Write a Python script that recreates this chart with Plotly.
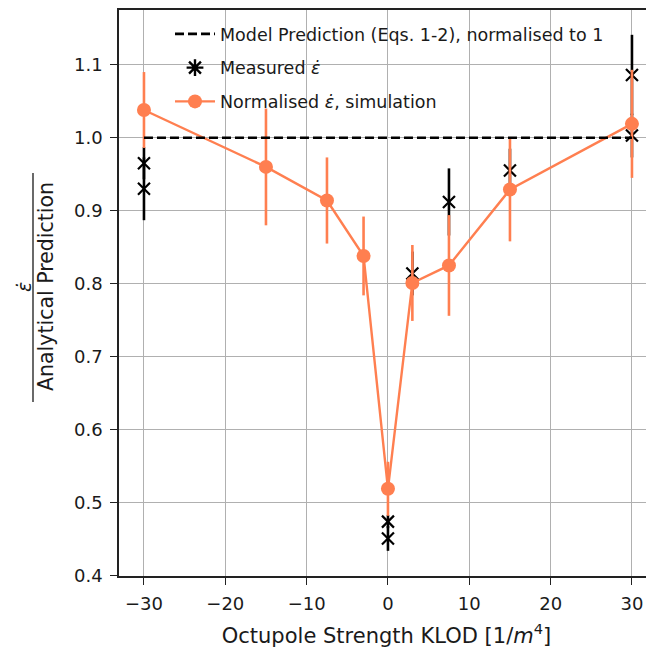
import plotly.graph_objects as go

# ---- data ----
sim_x = [-30, -15, -7.5, -3, 0, 3, 7.5, 15, 30]
sim_y = [1.038, 0.960, 0.914, 0.838, 0.519, 0.801, 0.825, 0.929, 1.019]
sim_err = [0.052, 0.080, 0.059, 0.054, 0.037, 0.052, 0.069, 0.071, 0.074]

meas_x = [-30, -30, 0, 0, 3, 7.5, 15, 30, 30]
meas_y = [0.965, 0.930, 0.474, 0.451, 0.814, 0.912, 0.955, 1.086, 1.003]
meas_err = [0.022, 0.043, 0.009, 0.017, 0.03, 0.046, 0.03, 0.055, 0.03]

model_x = [-30, 30]
model_y = [1.0, 1.0]

x_ticks = [-30, -20, -10, 0, 10, 20, 30]
y_ticks = [0.4, 0.5, 0.6, 0.7, 0.8, 0.9, 1.0, 1.1]

CORAL = "#FF7F50"
FONT = "DejaVu Sans"
TXT = "#1a1a1a"

OFF = 8  # page body margin
FW, FH = 654 - OFF, 648 - OFF
L, T, W, H = 119 - OFF, 10 - OFF, 535, 566  # plot area in figure pixels


def px_x(p):  # screenshot pixel -> paper
    return (p - OFF - L) / W


def px_y(p):
    return 1 - (p - OFF - T) / H


fig = go.Figure()

# measured points (x markers with vertical error bars)
fig.add_trace(go.Scatter(
    x=meas_x, y=meas_y, mode="markers", showlegend=False,
    marker=dict(symbol="x-thin", size=12, color="black",
                line=dict(width=2.2, color="black")),
    error_y=dict(type="data", array=meas_err, color="black",
                 thickness=2.6, width=0),
))

# simulation
fig.add_trace(go.Scatter(
    x=sim_x, y=sim_y, mode="lines+markers", showlegend=False,
    line=dict(color=CORAL, width=2.4),
    marker=dict(symbol="circle", size=14, color=CORAL),
    error_y=dict(type="data", array=sim_err, color=CORAL,
                 thickness=2.6, width=0),
))

# model prediction dashed line
fig.add_trace(go.Scatter(
    x=model_x, y=model_y, mode="lines", showlegend=False,
    line=dict(color="black", width=2.6, dash="9px,4px"),
))

# legend entries
fig.add_trace(go.Scatter(
    x=[None], y=[None], mode="lines", legendgroup="a", legendrank=1,
    name="Model Prediction (Eqs. 1-2), normalised to 1",
    line=dict(color="black", width=2.6, dash="9px,4px"),
))
fig.add_trace(go.Scatter(
    x=[None], y=[None], mode="markers", legendgroup="b", legendrank=2,
    name="Measured <i>ε̇</i>",
    marker=dict(symbol="asterisk-open", size=14, color="black",
                line=dict(width=2.4, color="black")),
))
fig.add_trace(go.Scatter(
    x=[None], y=[None], mode="lines+markers", legendgroup="c", legendrank=3,
    name="Normalised <i>ε̇</i>, simulation",
    line=dict(color=CORAL, width=2.4),
    marker=dict(symbol="circle", size=14, color=CORAL),
))

fig.update_layout(
    width=FW, height=FH,
    margin=dict(l=L, r=FW - L - W, t=T, b=FH - T - H, autoexpand=False),
    paper_bgcolor="white", plot_bgcolor="white",
    font=dict(family=FONT, size=18, color=TXT),
    showlegend=True,
    legend=dict(x=px_x(170), y=px_y(16), xanchor="left", yanchor="top",
                bgcolor="rgba(0,0,0,0)", borderwidth=0,
                font=dict(family=FONT, size=17.5, color=TXT),
                traceorder="grouped", tracegroupgap=8,
                itemwidth=40),
    xaxis=dict(range=[-33.07, 32.71], tickvals=x_ticks,
               ticktext=[("−" + str(-v)) if v < 0 else str(v) for v in x_ticks],
               showgrid=True, gridcolor="#b0b0b0", gridwidth=1,
               zeroline=False, showline=True, linecolor="#222", linewidth=1.6,
               mirror=True, ticks="outside", ticklen=7, tickwidth=1.4,
               tickcolor="#222", automargin=False, ticklabelstandoff=4,
               title=dict(text="Octupole Strength KLOD [1/<i>m</i><sup>4</sup>]",
                          font=dict(family=FONT, size=21, color=TXT),
                          standoff=17)),
    yaxis=dict(range=[0.3995, 1.175], tickvals=y_ticks,
               ticktext=["%.1f" % v for v in y_ticks],
               showgrid=True, gridcolor="#b0b0b0", gridwidth=1,
               zeroline=False, showline=True, linecolor="#222", linewidth=1.6,
               ticks="outside", ticklen=7, tickwidth=1.4, tickcolor="#222",
               automargin=False, ticklabelstandoff=4),
)

# y-axis title as a fraction: eps-dot over "Analytical Prediction"
fig.add_annotation(text="Analytical Prediction", xref="paper", yref="paper",
                   x=px_x(46), y=px_y(287), xanchor="center", yanchor="middle",
                   textangle=-90, showarrow=False,
                   font=dict(family=FONT, size=20.5, color=TXT))
fig.add_annotation(text="<i>ε̇</i>", xref="paper", yref="paper",
                   x=px_x(24), y=px_y(287), xanchor="center", yanchor="middle",
                   textangle=-90, showarrow=False,
                   font=dict(family=FONT, size=19, color=TXT))
fig.add_shape(type="line", xref="paper", yref="paper",
              x0=px_x(33), x1=px_x(33),
              y0=px_y(173), y1=px_y(402),
              line=dict(color=TXT, width=1.3))

fig.write_html("out.html", config={"displayModeBar": False})
